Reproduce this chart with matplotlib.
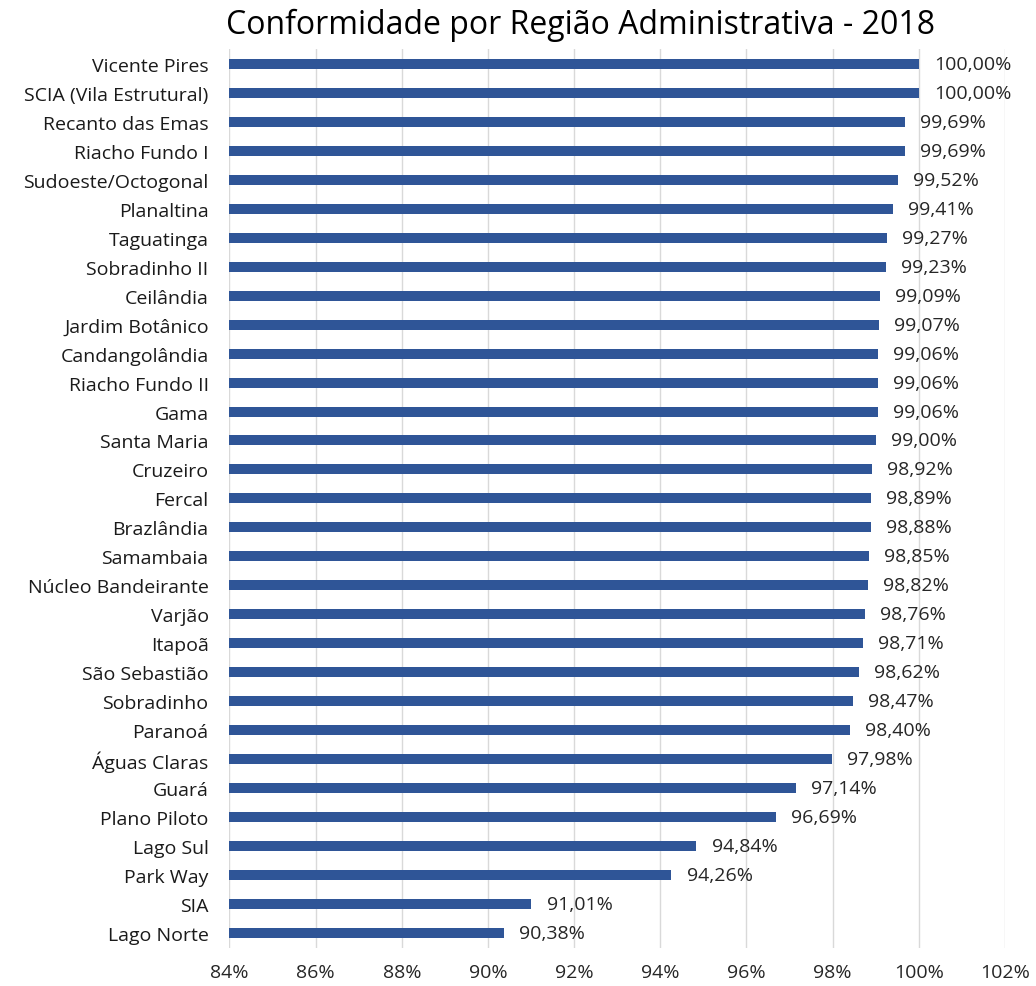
import matplotlib.pyplot as plt
from matplotlib.ticker import FuncFormatter

# Dados (em ordem de cima para baixo)
regioes = ["Vicente Pires", "SCIA (Vila Estrutural)", "Recanto das Emas", "Riacho Fundo I",
           "Sudoeste/Octogonal", "Planaltina", "Taguatinga", "Sobradinho II", "Ceilândia",
           "Jardim Botânico", "Candangolândia", "Riacho Fundo II", "Gama", "Santa Maria",
           "Cruzeiro", "Fercal", "Brazlândia", "Samambaia", "Núcleo Bandeirante", "Varjão",
           "Itapoã", "São Sebastião", "Sobradinho", "Paranoá", "Águas Claras", "Guará",
           "Plano Piloto", "Lago Sul", "Park Way", "SIA", "Lago Norte"]
conformidade = [100.00, 100.00, 99.69, 99.69, 99.52, 99.41, 99.27, 99.23, 99.09, 99.07,
                99.06, 99.06, 99.06, 99.00, 98.92, 98.89, 98.88, 98.85, 98.82, 98.76,
                98.71, 98.62, 98.47, 98.40, 97.98, 97.14, 96.69, 94.84, 94.26, 91.01, 90.38]
xticks = [84, 86, 88, 90, 92, 94, 96, 98, 100, 102]

plt.rcParams['font.family'] = ['Open Sans', 'DejaVu Sans']

fig = plt.figure(figsize=(10.36, 9.87), dpi=100)
ax = fig.add_axes([0.2215, 0.039, 0.7485, 0.91])

y = list(range(len(regioes)))
ax.barh(y, [v - 84 for v in conformidade], left=84, height=0.345, color="#2F5597", zorder=3)

for yi, v in zip(y, conformidade):
    ax.text(v + 0.35, yi, f"{v:.2f}%".replace(".", ","), va="center", ha="left",
            fontsize=14, color="#262626")

ax.set_ylim(len(regioes) - 0.5, -0.5)
ax.set_xlim(84, 102)
ax.set_yticks(y)
ax.set_yticklabels(regioes, fontsize=14, color="#1a1a1a")
ax.set_xticks(xticks)
ax.xaxis.set_major_formatter(FuncFormatter(lambda v, p: f"{v:.0f}%"))
ax.tick_params(axis="x", labelsize=14, labelcolor="#262626", length=0, pad=11)
ax.tick_params(axis="y", length=0, pad=15)
ax.grid(axis="x", color="#d9d9d9", linewidth=1, zorder=0)
for s in ax.spines.values():
    s.set_visible(False)

fig.text(0.56, 0.974, "Conformidade por Região Administrativa - 2018", ha="center", va="center",
         fontsize=23, color="#000000")

fig.savefig("out.png", dpi=100)
